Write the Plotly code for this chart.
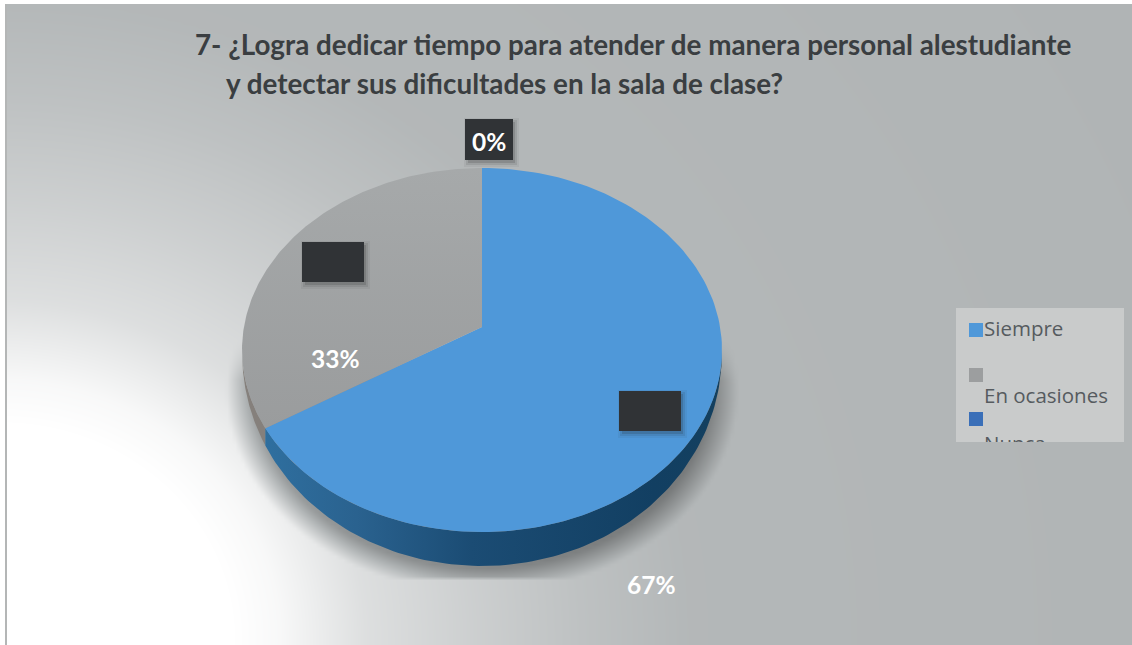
import numpy as np
import plotly.graph_objects as go

categories = ["Siempre", "En ocasiones", "Nunca"]
values = [67, 33, 0]
slice_colors = ["#4f98d9", "#9c9e9f", "#3a6fb8"]
title_lines = ["7- ¿Logra dedicar tiempo para atender de manera personal alestudiante",
               "y detectar sus dificultades en la sala de clase?"]

W, H = 1132, 645
CX, CY, RX, RY = 482, 350, 240, 182   # top ellipse of the 3D pie
APEX_Y = 327                          # perspective: apex sits above ellipse centre
DEPTH = 34

# ---- background gradient + soft pie shadow (decoration, luminance only)
gx = np.arange(7, W + 4, 4)
gy = np.arange(4, H + 4, 4)
X, Y = np.meshgrid(gx, gy)
R = np.hypot(X * 0.93, Y - 640)
lum = np.interp(R, [0, 215, 260, 340, 440, 540, 640, 1300], [255, 255, 248, 222, 206, 192, 182, 178])
D = np.hypot((X - 482) / 256, (Y - 392) / 200)
sh = np.clip((1 - D) / 0.12, 0, 1) * np.clip((Y - 340) / 40, 0, 1) * (Y < 578)
lum = lum * (1 - 0.34 * sh)

fig = go.Figure()
fig.add_trace(go.Heatmap(x=gx, y=gy, z=lum, zmin=0, zmax=255, zsmooth="best", showscale=False,
                         hoverinfo="skip",
                         colorscale=[[0, "#000000"], [0.7, "#b0b4b5"], [1, "#ffffff"]]))


def rim_param(frac):
    """Ellipse parameter (clockwise from top) hit by the ray for a cumulative share."""
    th = 2 * np.pi * frac
    dx, dy = np.sin(th) * RX, -np.cos(th) * RX * 0.85
    py = APEX_Y - CY
    a = (dx / RX) ** 2 + (dy / RY) ** 2
    b = 2 * py * dy / RY ** 2
    c = (py / RY) ** 2 - 1
    t = (-b + np.sqrt(b * b - 4 * a * c)) / (2 * a)
    px, qy = dx * t, py + dy * t
    return np.arctan2(px / RX, -qy / RY) % (2 * np.pi)


total = sum(values)
starts = np.cumsum([0] + values[:-1]) / total
ends = np.cumsum(values) / total


def rim(tt):
    return CX + RX * np.sin(tt), CY - RY * np.cos(tt)


def wall(t0, t1):
    tw = np.linspace(t0, t1, 120)
    xa, ya = rim(tw)
    depth = DEPTH * np.clip(-np.cos(tw), 0, 1) ** 0.8
    return np.r_[xa, xa[::-1]], np.r_[ya, (ya + depth)[::-1]]


end0 = rim_param(ends[0])
# side wall below the grey slice (thin sliver at the lower left)
wx, wy = wall(end0, 1.5 * np.pi)
fig.add_trace(go.Scatter(x=wx, y=wy, mode="lines", fill="toself", line_width=0, fillcolor="#85807c",
                         hoverinfo="skip", showlegend=False))
# side wall below the first slice
wx, wy = wall(np.pi / 2, end0)
fig.add_trace(go.Scatter(x=wx, y=wy, mode="lines", fill="toself", line_width=0,
                         hoverinfo="skip", showlegend=False,
                         fillgradient=dict(type="horizontal",
                                           colorscale=[[0, "#2f6f9f"], [0.2, "#2a628f"], [0.45, "#1b4c74"],
                                                       [0.85, "#123f62"], [1, "#14405f"]])))

# top faces (drawn from the values)
for i, (cat, v) in enumerate(zip(categories, values)):
    if v == 0:
        continue
    t0 = 0 if starts[i] == 0 else rim_param(starts[i])
    t1 = 2 * np.pi if ends[i] >= 1 else rim_param(ends[i])
    if t1 <= t0:
        t1 += 2 * np.pi
    tt = np.linspace(t0, t1, 160)
    xr, yr = rim(tt)
    kw = dict(fillcolor=slice_colors[i])
    if i == 1:
        kw = dict(fillgradient=dict(type="vertical", colorscale=[[0, "#9a9c9d"], [1, "#a6a9aa"]]))
    fig.add_trace(go.Scatter(x=np.r_[CX, xr, CX], y=np.r_[APEX_Y, yr, APEX_Y], mode="lines", fill="toself",
                             line_width=0, name=cat, showlegend=False, hoverinfo="skip", **kw))

# legend panel, on axes that clip its last row exactly like the reference
LX0, LX1, LY0, LY1 = 956, 1124, 308, 442
legend_y = [330, 375, 419]
legend_text_y = [331, 398, 446]
fig.add_trace(go.Scatter(x=[LX0, LX1, LX1, LX0, LX0], y=[LY0, LY0, LY1, LY1, LY0], mode="lines", fill="toself",
                         line_width=0, fillcolor="#c9cbcb", xaxis="x2", yaxis="y2",
                         hoverinfo="skip", showlegend=False))
fig.add_trace(go.Scatter(x=[976] * 3, y=legend_y, mode="markers", xaxis="x2", yaxis="y2",
                         marker=dict(symbol="square", size=14, color=slice_colors, line_width=0),
                         hoverinfo="skip", showlegend=False))
fig.add_trace(go.Scatter(x=[984] * 3, y=legend_text_y, mode="text", text=categories, textposition="middle right",
                         textfont=dict(family="Open Sans", size=20.5, color="#565b5f"), cliponaxis=True,
                         xaxis="x2", yaxis="y2", hoverinfo="skip", showlegend=False))

# dark label boxes with soft shadows
shapes = []
for x0, y0, x1, y1 in [(465, 119, 513, 160), (302, 242, 364, 282), (619, 391, 681, 431)]:
    for g, op in [(5, 0.06), (3, 0.10), (1, 0.16)]:
        shapes.append(dict(type="rect", x0=x0 - g + 4, x1=x1 + g + 1, y0=y0 - g + 4, y1=y1 + g + 2,
                           fillcolor="#222222", opacity=op, line_width=0, layer="above"))
    shapes.append(dict(type="rect", x0=x0, x1=x1, y0=y0, y1=y1, fillcolor="#303336", line_width=0, layer="above"))
shapes.append(dict(type="rect", x0=0, x1=W, y0=0, y1=4, fillcolor="#ffffff", line_width=0, layer="above"))
shapes.append(dict(type="rect", x0=0, x1=7, y0=0, y1=H, fillcolor="#ffffff", line_width=0, layer="above"))
shapes.append(dict(type="line", x0=6, x1=6, y0=4, y1=H, line=dict(color="#b4b6b6", width=2), layer="above"))

ann = []
for txt, x, y in [(title_lines[0], 193, 44), (title_lines[1], 224, 83)]:
    ann.append(dict(text=f"<b>{txt}</b>", x=x, y=y, xref="x", yref="y", xanchor="left", yanchor="middle",
                    showarrow=False, font=dict(family="Lato", size=27.8, color="#3a3e41")))
for txt, x, y, in [(f"{values[2]}%", 489, 141), (f"{values[1]}%", 335, 358), (f"{values[0]}%", 651, 584)]:
    ann.append(dict(text=f"<b>{txt}</b>", x=x, y=y, xref="x", yref="y", xanchor="center", yanchor="middle",
                    showarrow=False, font=dict(family="Lato", size=24.5, color="#ffffff")))

fig.update_layout(
    width=W, height=H, margin=dict(l=0, r=0, t=0, b=0), paper_bgcolor="#ffffff", plot_bgcolor="#ffffff",
    showlegend=False, shapes=shapes, annotations=ann,
    xaxis=dict(range=[0, W], domain=[0, 1], visible=False, fixedrange=True),
    yaxis=dict(range=[H, 0], domain=[0, 1], visible=False, fixedrange=True),
    xaxis2=dict(range=[LX0, LX1], domain=[LX0 / W, LX1 / W], visible=False, anchor="y2", fixedrange=True),
    yaxis2=dict(range=[LY1, LY0], domain=[1 - LY1 / H, 1 - LY0 / H], visible=False, anchor="x2", fixedrange=True),
)
fig.write_html("out.html", config=dict(displayModeBar=False),
               post_script="document.body.style.margin='0';document.body.style.overflow='hidden';")
